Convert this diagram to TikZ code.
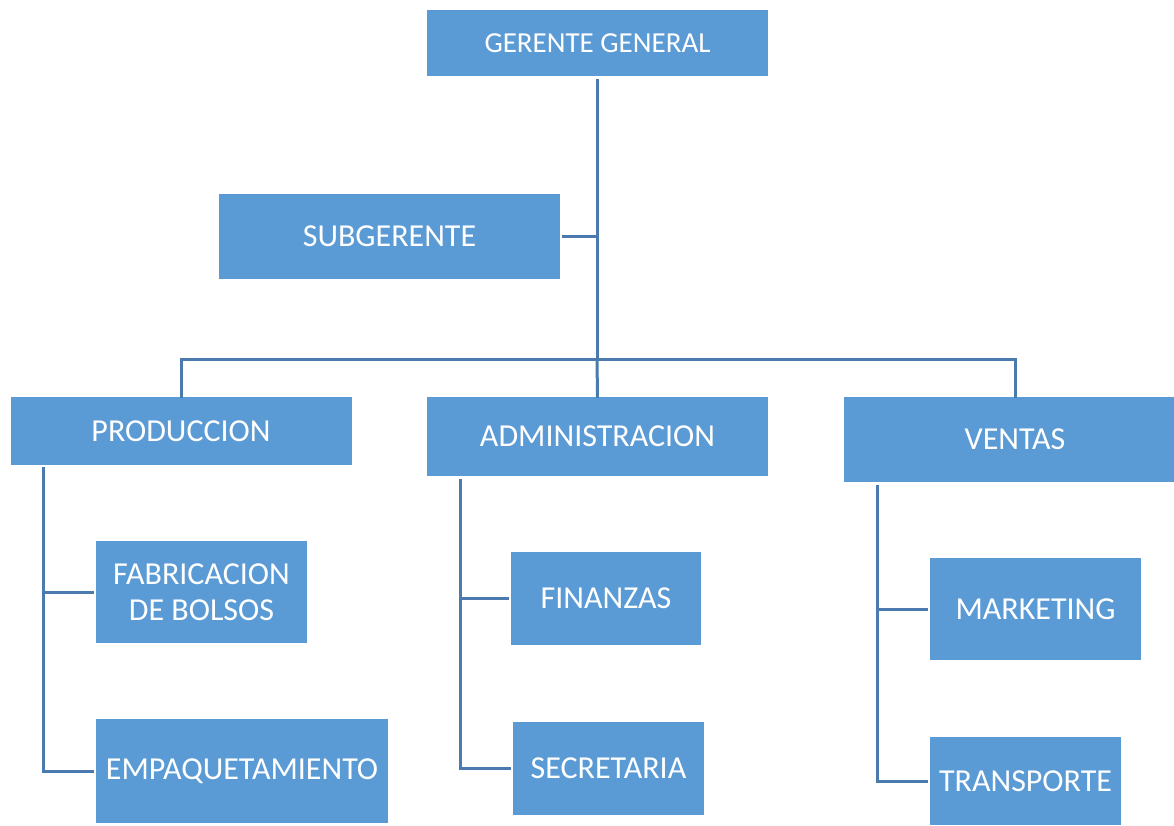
\documentclass[tikz,border=0pt]{standalone}
\usepackage{fontspec}
\setmainfont{Carlito}
\definecolor{boxfill}{HTML}{5B9BD5}
\definecolor{linecol}{HTML}{4A7AAE}
\begin{document}
\begin{tikzpicture}[x=1pt,y=-1pt,
  box/.style={rectangle,fill=boxfill,draw=none,text=white,font=\fontsize{32}{36}\selectfont,align=center,inner sep=0pt},
  conn/.style={draw=linecol,line width=3pt}]
\useasboundingbox[fill=white] (0,0) rectangle (1174,825);
% boxes
\node[box,minimum width=341,minimum height=66,font=\fontsize{29}{34}\selectfont] (gg) at (597.5,43) {GERENTE GENERAL};
\node[box,minimum width=341,minimum height=85] (sub) at (389.5,236.5) {SUBGERENTE};
\node[box,minimum width=341,minimum height=68] (prod) at (181,431) {PRODUCCION};
\node[box,minimum width=341,minimum height=79] (adm) at (597.5,436.5) {ADMINISTRACION};
\node[box,minimum width=342,minimum height=85] (ven) at (1015,439.5) {VENTAS};
\node[box,minimum width=211,minimum height=102] (fab) at (201.5,592) {FABRICACION\\DE BOLSOS};
\node[box,minimum width=292,minimum height=104] (emp) at (242,771) {EMPAQUETAMIENTO};
\node[box,minimum width=190,minimum height=93] (fin) at (606,598.5) {FINANZAS};
\node[box,minimum width=191,minimum height=93] (sec) at (608.5,768.5) {SECRETARIA};
\node[box,minimum width=211,minimum height=102] (mkt) at (1035.5,609) {MARKETING};
\node[box,minimum width=191,minimum height=88] (tra) at (1025.5,781) {TRANSPORTE};
% top connectors
\coordinate (hb) at (597,359);
\coordinate (ggb) at (597,79);
\draw[conn] (ggb) -- (hb);
\draw[conn] ([xshift=2pt]sub.east) -- (sub.east -| ggb);
\draw[conn] ([yshift=-1pt]prod.north) |- (hb);
\draw[conn] (hb) -| ([yshift=-1pt]ven.north);
\draw[conn] (hb) -- ([yshift=-1pt]adm.north);
% production
\coordinate (ps) at (43,467);
\draw[conn] (ps) |- ([xshift=-2pt]emp.west);
\draw[conn] (ps |- fab.west) -- ([xshift=-2pt]fab.west);
% administration
\coordinate (as) at (460,479);
\draw[conn] (as) |- ([xshift=-2pt]sec.west);
\draw[conn] (as |- fin.west) -- ([xshift=-2pt]fin.west);
% ventas
\coordinate (vs) at (877,485);
\draw[conn] (vs) |- ([xshift=-2pt]tra.west);
\draw[conn] (vs |- mkt.west) -- ([xshift=-2pt]mkt.west);
\end{tikzpicture}
\end{document}
